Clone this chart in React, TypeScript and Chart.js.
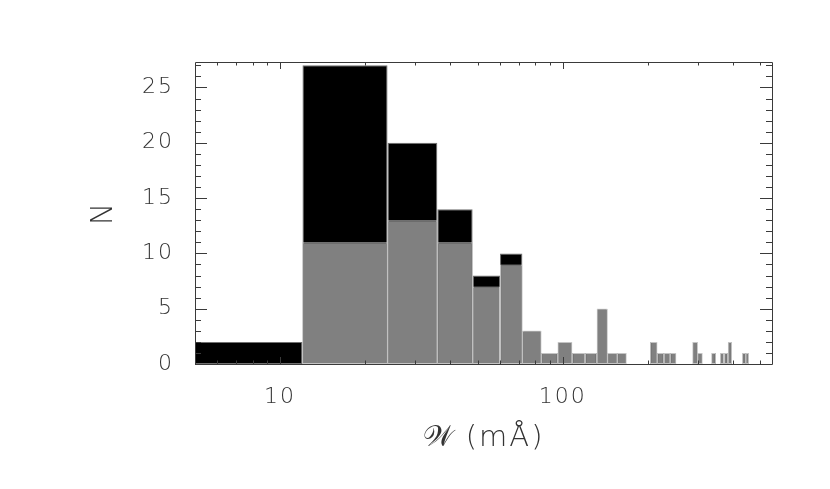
import React, { useEffect, useRef } from 'react';
import { Chart, registerables } from 'chart.js';

Chart.register(...registerables);

// Histogram bins (equivalent width W in mÅ), lower and upper edges
const binLow = [0, 12, 24, 36, 48, 60, 72, 84, 96, 108, 120, 132, 144, 156, 204, 216, 228, 240, 288, 300, 336, 360, 372, 384, 432, 444];
const binHigh = [12, 24, 36, 48, 60, 72, 84, 96, 108, 120, 132, 144, 156, 168, 216, 228, 240, 252, 300, 312, 348, 372, 384, 396, 444, 456];
// Counts: full sample (black) and sub-sample (grey)
const totalCounts = [2, 27, 20, 14, 8, 10, 3, 1, 2, 1, 1, 5, 1, 1, 2, 1, 1, 1, 2, 1, 1, 1, 1, 2, 1, 1];
const subsetCounts = [0, 11, 13, 11, 7, 9, 3, 1, 2, 1, 1, 5, 1, 1, 2, 1, 1, 1, 2, 1, 1, 1, 1, 2, 1, 1];
// Axis tick labels
const xTickValues = [10, 100];
const yTickValues = [0, 5, 10, 15, 20, 25];

const X_MIN = 5;
const X_MAX = 550;
const Y_MIN = 0;
const Y_MAX = 27.3;

const FONT_FAMILY = '"DejaVu Sans", sans-serif';

const binGeometry = {
  id: 'binGeometry',
  afterDatasetsUpdate(chart: any) {
    const xs = chart.scales.x;
    chart.data.datasets.forEach((_ds: any, di: number) => {
      const meta = chart.getDatasetMeta(di);
      meta.data.forEach((el: any, i: number) => {
        const raw = chart.data.datasets[di].data[i];
        const lo = Math.max(raw.lo, xs.min);
        const hi = Math.min(raw.hi, xs.max);
        const pl = xs.getPixelForValue(lo);
        const ph = xs.getPixelForValue(hi);
        el.x = (pl + ph) / 2;
        el.width = ph - pl;
      });
    });
  },
};

const textSpacing = {
  id: 'textSpacing',
  beforeDraw(chart: any) {
    chart.ctx.letterSpacing = '2px';
  },
  afterDraw(chart: any) {
    chart.ctx.letterSpacing = '0px';
  },
};

const frameTicks = {
  id: 'frameTicks',
  afterDatasetsDraw(chart: any) {
    const { ctx, chartArea } = chart;
    const { left, right, top, bottom } = chartArea;
    const xs = chart.scales.x;
    const ys = chart.scales.y;
    ctx.save();
    ctx.strokeStyle = '#3a3a3a';
    ctx.lineWidth = 1;
    ctx.beginPath();
    ctx.rect(Math.round(left) + 0.5, Math.round(top) + 0.5, Math.round(right - left), Math.round(bottom - top));
    ctx.stroke();

    ctx.beginPath();
    // y ticks: every unit, major every 5
    for (let v = 0; v <= Math.floor(ys.max); v++) {
      const p = Math.round(ys.getPixelForValue(v)) + 0.5;
      const len = v % 5 === 0 ? 12 : 6;
      ctx.moveTo(left, p);
      ctx.lineTo(left + len, p);
      ctx.moveTo(right, p);
      ctx.lineTo(right - len, p);
    }
    // x ticks: log decades, majors at labelled values
    for (let dec = 1; dec <= 100; dec *= 10) {
      for (let m = 1; m <= 9; m++) {
        const v = m * dec;
        if (v <= xs.min || v >= xs.max) continue;
        const p = Math.round(xs.getPixelForValue(v)) + 0.5;
        const len = xTickValues.includes(v) ? 7 : 3.5;
        ctx.moveTo(p, bottom);
        ctx.lineTo(p, bottom - len);
        ctx.moveTo(p, top);
        ctx.lineTo(p, top + len);
      }
    }
    ctx.stroke();
    ctx.restore();
  },
};

export default function App() {
  const canvasRef = useRef<HTMLCanvasElement | null>(null);

  useEffect(() => {
    document.body.style.margin = '0';
    const canvas = canvasRef.current;
    if (!canvas) return;

    const mk = (counts: number[]) =>
      counts.map((c, i) => ({ x: (binLow[i] + binHigh[i]) / 2, y: c, lo: binLow[i], hi: binHigh[i] }));

    const chart = new Chart(canvas, {
      type: 'bar',
      data: {
        datasets: [
          {
            label: 'subset',
            data: mk(subsetCounts) as any,
            backgroundColor: '#808080',
            borderColor: '#c4c4c4',
            borderWidth: 1,
            borderSkipped: false,
            inflateAmount: 0,
            grouped: false,
            order: 0,
          } as any,
          {
            label: 'total',
            data: mk(totalCounts) as any,
            backgroundColor: '#000000',
            borderColor: '#707070',
            borderWidth: 1,
            borderSkipped: false,
            inflateAmount: 0,
            grouped: false,
            order: 1,
          } as any,
        ],
      },
      options: {
        animation: false,
        responsive: false,
        maintainAspectRatio: false,
        events: [],
        layout: { padding: { left: 0, right: 58, top: 62, bottom: 0 } },
        plugins: {
          legend: { display: false },
          tooltip: { enabled: false },
        },
        scales: {
          x: {
            type: 'logarithmic',
            min: X_MIN,
            max: X_MAX,
            offset: false,
            grid: { display: false, drawTicks: false },
            border: { display: false },
            afterBuildTicks: (scale: any) => {
              scale.ticks = xTickValues.map((v) => ({ value: v, major: true }));
            },
            afterFit: (scale: any) => {
              scale.height = 125;
            },
            ticks: {
              autoSkip: false,
              maxRotation: 0,
              padding: 20,
              color: '#333333',
              font: { family: FONT_FAMILY, size: 22, weight: '200' as any },
              callback: (v: any) => String(v),
            },
            title: {
              display: true,
              text: '𝒲 (mÅ)',
              color: '#333333',
              font: { family: FONT_FAMILY, size: 29, weight: '200' as any },
              padding: { top: 0, bottom: 33 },
            },
          },
          y: {
            type: 'linear',
            min: Y_MIN,
            max: Y_MAX,
            grid: { display: false, drawTicks: false },
            border: { display: false },
            afterBuildTicks: (scale: any) => {
              scale.ticks = yTickValues.map((v) => ({ value: v }));
            },
            afterFit: (scale: any) => {
              scale.width = 195;
            },
            ticks: {
              autoSkip: false,
              padding: 21,
              color: '#333333',
              font: { family: FONT_FAMILY, size: 22, weight: '200' as any },
              callback: (v: any) => String(v),
            },
            title: {
              display: true,
              text: 'N',
              color: '#333333',
              font: { family: FONT_FAMILY, size: 30, weight: '200' as any },
              padding: { top: 86, bottom: 0 },
            },
          },
        },
      },
      plugins: [textSpacing, binGeometry, frameTicks],
    });

    return () => chart.destroy();
  }, []);

  return (
    <div style={{ width: 830, height: 489, background: '#ffffff' }}>
      <canvas ref={canvasRef} width={830} height={489} style={{ display: 'block', width: 830, height: 489 }} />
    </div>
  );
}
